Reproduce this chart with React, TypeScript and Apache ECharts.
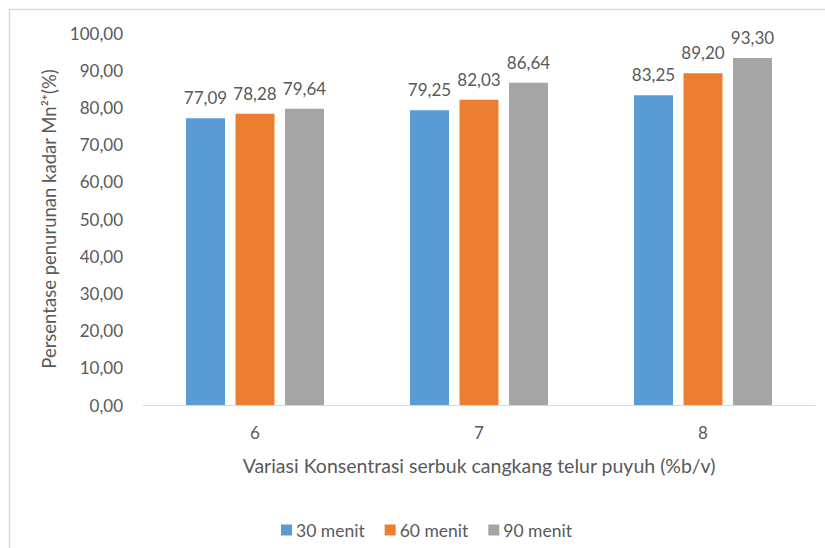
import React, { useEffect, useRef } from "react";
import * as echarts from "echarts";

const categories = ["6", "7", "8"];
const seriesNames = ["30 menit", "60 menit", "90 menit"];
const values30 = [77.09, 79.25, 83.25];
const values60 = [78.28, 82.03, 89.2];
const values90 = [79.64, 86.64, 93.3];
const colors = ["#5B9BD5", "#ED7D31", "#A5A5A5"];

const FONT = "Lato, 'Open Sans', sans-serif";
const TEXT = "#595959";
const fmt = (v: number) => v.toFixed(2).replace(".", ",");

export default function App() {
  const ref = useRef<HTMLDivElement>(null);
  useEffect(() => {
    if (!ref.current) return;
    const chart = echarts.init(ref.current, undefined, { renderer: "svg" });
    const data = [values30, values60, values90];
    chart.setOption({
      animation: false,
      backgroundColor: "#ffffff",
      textStyle: { fontFamily: FONT, color: TEXT },
      grid: { left: 143, right: 10, top: 33, bottom: 143 },
      graphic: [
        {
          type: "rect",
          shape: { x: 9.5, y: 9.5, width: 1000, height: 1000 },
          style: { stroke: "#d9d9d9", fill: "none", lineWidth: 1.5 },
          silent: true,
        },
      ],
      legend: {
        left: 276,
        top: 516,
        itemWidth: 11,
        itemHeight: 11,
        itemGap: 20,
        icon: "rect",
        textStyle: { fontFamily: FONT, fontSize: 17.5, color: TEXT, padding: [0, 0, 0, -1] },
        data: seriesNames,
      },
      xAxis: {
        type: "category",
        data: categories,
        axisLine: { show: true, lineStyle: { color: "#d9d9d9", width: 1 } },
        axisTick: { show: false },
        axisLabel: { fontFamily: FONT, fontSize: 17, color: TEXT, margin: 19 },
        name: "Variasi Konsentrasi serbuk cangkang telur puyuh (%b/v)",
        nameLocation: "middle",
        nameGap: 50,
        nameTextStyle: { fontFamily: FONT, fontSize: 19.5, color: TEXT },
      },
      yAxis: {
        type: "value",
        min: 0,
        max: 100,
        interval: 10,
        axisLine: { show: false },
        axisTick: { show: false },
        splitLine: { show: false },
        axisLabel: {
          fontFamily: FONT,
          fontSize: 17,
          color: TEXT,
          margin: 20,
          formatter: (v: number) => fmt(v),
        },
        name: "Persentase penurunan kadar Mn\u00B2\u207A(%)",
        nameLocation: "middle",
        nameGap: 85,
        nameRotate: 90,
        nameTextStyle: { fontFamily: FONT, fontSize: 18.5, color: TEXT },
      },
      series: seriesNames.map((name, i) => ({
        name,
        type: "bar",
        data: data[i],
        barWidth: "17.4%",
        barGap: "27%",
        itemStyle: { color: colors[i] },
        label: {
          show: true,
          position: "top",
          distance: 12,
          fontFamily: FONT,
          fontSize: 17,
          color: TEXT,
          formatter: (p: any) => fmt(p.value),
        },
      })),
    });
    return () => chart.dispose();
  }, []);
  return (
    <div
      ref={ref}
      style={{ position: "fixed", left: 0, top: 0, width: 825, height: 548 }}
    />
  );
}
